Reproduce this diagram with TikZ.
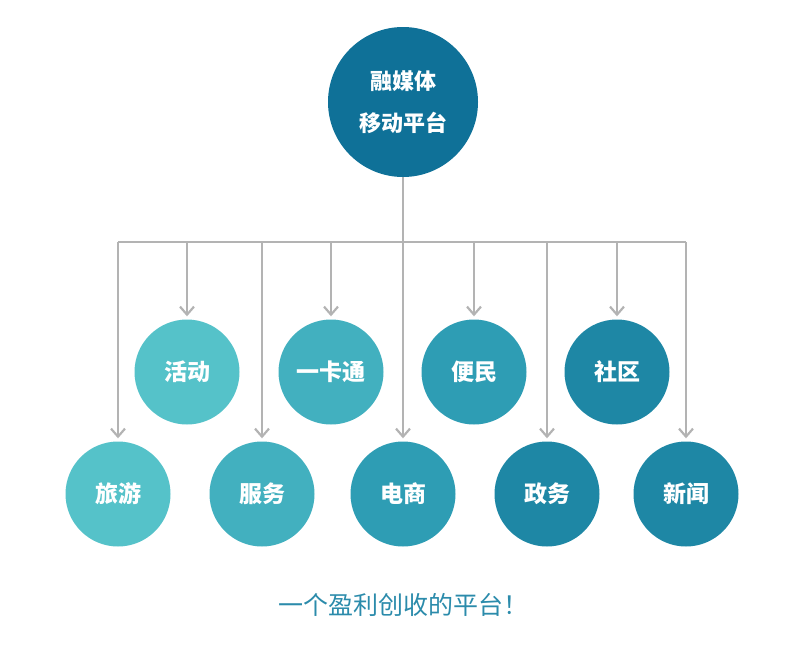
\documentclass[tikz,border=0pt]{standalone}
\usepackage{fontspec}
\setmainfont{Noto Sans CJK SC}
\usetikzlibrary{arrows.meta}
\definecolor{c0}{HTML}{0F7198}
\definecolor{c1}{HTML}{55C2C9}
\definecolor{c2}{HTML}{42B0BF}
\definecolor{c3}{HTML}{2E9DB4}
\definecolor{c4}{HTML}{1E87A5}
\definecolor{lc}{HTML}{B3B3B3}
\definecolor{tc}{HTML}{2B8BAB}
\begin{document}
\begin{tikzpicture}[x=1pt,y=-1pt,
  circ/.style={circle,minimum size=105pt,inner sep=0pt,text=white,font=\fontsize{23}{26}\selectfont\bfseries},
  conn/.style={draw=lc,line width=2.5pt},
  arr/.style={conn,-{Straight Barb[length=8pt,width=14pt,line width=2.2pt]},shorten >=3pt}]
\useasboundingbox (0,0) rectangle (800,648);
\node[circ,minimum size=150pt,fill=c0,align=center,font=\fontsize{22}{42}\selectfont\bfseries] (top) at (403,102) {融媒体\\移动平台};
\node[circ,fill=c1] (a1) at (187,372) {活动};
\node[circ,fill=c2] (a2) at (331,372) {一卡通};
\node[circ,fill=c3] (a3) at (474,372) {便民};
\node[circ,fill=c4] (a4) at (617,372) {社区};
\node[circ,fill=c1] (b1) at (118,494) {旅游};
\node[circ,fill=c2] (b2) at (262,494) {服务};
\node[circ,fill=c3] (b3) at (403,494) {电商};
\node[circ,fill=c4] (b4) at (547,494) {政务};
\node[circ,fill=c4] (b5) at (686,494) {新闻};
\coordinate (j) at (403,242);
\coordinate (l) at (118,242);
\coordinate (r) at (686,242);
\draw[conn] (top.south) -- (j);
\draw[conn] (l) -- (r);
\foreach \n in {a1,a2,a3,a4,b1,b2,b3,b4,b5}
  \draw[arr] (j -| \n) -- (\n.north);
\node[text=tc,font=\fontsize{25}{28}\selectfont] (cap) at (403,605) {一个盈利创收的平台！};
\end{tikzpicture}
\end{document}
